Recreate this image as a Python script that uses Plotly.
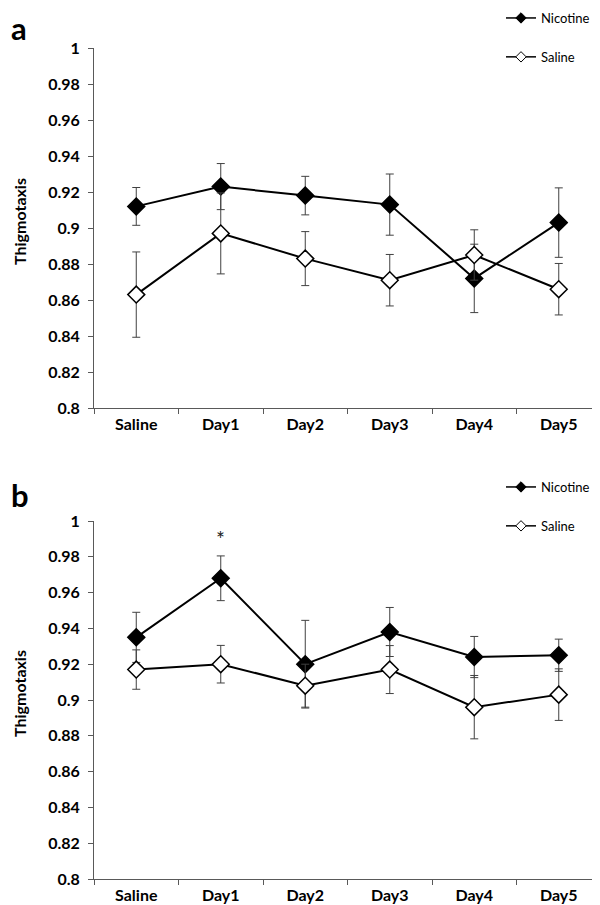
import plotly.graph_objects as go

categories = ["Saline", "Day1", "Day2", "Day3", "Day4", "Day5"]
y_ticks = [0.8, 0.82, 0.84, 0.86, 0.88, 0.9, 0.92, 0.94, 0.96, 0.98, 1.0]
y_ticktext = ["0.8", "0.82", "0.84", "0.86", "0.88", "0.9", "0.92", "0.94", "0.96", "0.98", "1"]

a_nicotine = [0.912, 0.923, 0.918, 0.913, 0.872, 0.903]
a_nicotine_err = [0.0105, 0.0128, 0.0107, 0.017, 0.019, 0.0193]
a_saline = [0.863, 0.897, 0.883, 0.871, 0.885, 0.866]
a_saline_err = [0.0237, 0.0225, 0.015, 0.0143, 0.014, 0.0143]

b_nicotine = [0.935, 0.968, 0.920, 0.938, 0.924, 0.925]
b_nicotine_err = [0.014, 0.0125, 0.0245, 0.0137, 0.0115, 0.009]
b_saline = [0.917, 0.920, 0.908, 0.917, 0.896, 0.903]
b_saline_err = [0.011, 0.0105, 0.012, 0.0134, 0.0177, 0.0144]

W, H = 600, 905
FONT = "Lato"
AXC = "#595959"


def px_x(p):
    return p / W


def px_y(p):
    return (H - p) / H


fig = go.Figure()


def add_series(name, y, err, xa, ya, legend, filled):
    fill = "black" if filled else "white"
    fig.add_trace(go.Scatter(
        x=categories, y=y, name=name, mode="lines+markers",
        xaxis=xa, yaxis=ya, showlegend=False,
        line=dict(color="black", width=2),
        marker=dict(symbol="diamond", size=13, color=fill,
                    line=dict(color="black", width=1.5)),
        error_y=dict(type="data", array=err, visible=True,
                     color="#404040", thickness=1, width=4),
    ))
    # legend entry with the small symbol used in the reference legend
    fig.add_trace(go.Scatter(
        x=[None], y=[None], name=name, mode="lines+markers",
        xaxis=xa, yaxis=ya, legend=legend, legendgroup=name + legend,
        line=dict(color="black", width=1.5),
        marker=dict(symbol="diamond", size=8, color=fill,
                    line=dict(color="black", width=1)),
    ))


add_series("Nicotine", a_nicotine, a_nicotine_err, "x", "y", "legend", True)
add_series("Saline", a_saline, a_saline_err, "x", "y", "legend", False)
add_series("Nicotine", b_nicotine, b_nicotine_err, "x2", "y2", "legend2", True)
add_series("Saline", b_saline, b_saline_err, "x2", "y2", "legend2", False)

xdom = [px_x(86), px_x(593)]
xaxis_style = dict(
    type="category", categoryorder="array", categoryarray=categories,
    range=[-0.5, 5.5], domain=xdom, showline=True, linecolor=AXC, linewidth=1,
    ticks="outside", tickson="boundaries", ticklen=5, tickcolor=AXC,
    ticklabelstandoff=2,
    tickfont=dict(family=FONT, size=16, color="black", weight="bold"),
    showgrid=False, zeroline=False, fixedrange=True,
)
yaxis_style = dict(
    range=[0.8, 1.0], tickvals=y_ticks, ticktext=y_ticktext,
    showline=True, linecolor=AXC, linewidth=1,
    ticks="outside", ticklen=5, tickcolor=AXC, ticklabelstandoff=5,
    tickfont=dict(family=FONT, size=16, color="black", weight="bold"),
    showgrid=False, zeroline=False,
)

legend_style = dict(
    xanchor="left", yanchor="top",
    font=dict(family=FONT, size=13, color="black"),
    itemwidth=30, tracegroupgap=19, traceorder="grouped",
    bgcolor="rgba(0,0,0,0)",
)

fig.update_layout(
    width=W, height=H, autosize=False,
    margin=dict(l=0, r=0, t=0, b=0, autoexpand=False),
    paper_bgcolor="white", plot_bgcolor="white",
    font=dict(family=FONT, color="black"),
    xaxis=dict(**xaxis_style, anchor="y"),
    yaxis=dict(**yaxis_style, anchor="x", domain=[px_y(400), px_y(40)]),
    xaxis2=dict(**xaxis_style, anchor="y2"),
    yaxis2=dict(**yaxis_style, anchor="x2", domain=[px_y(871), px_y(513)]),
    legend=dict(**legend_style, x=px_x(493), y=px_y(-5)),
    legend2=dict(**legend_style, x=px_x(493), y=px_y(464)),
    showlegend=True,
)

annotations = [
    dict(text="<b>a</b>", x=px_x(1), y=px_y(20), xref="paper", yref="paper",
         xanchor="left", yanchor="middle", showarrow=False,
         font=dict(family=FONT, size=31, color="black")),
    dict(text="<b>b</b>", x=px_x(1), y=px_y(487), xref="paper", yref="paper",
         xanchor="left", yanchor="middle", showarrow=False,
         font=dict(family=FONT, size=31, color="black")),
    dict(text="<b>Thigmotaxis</b>", x=px_x(11), y=px_y(214), xref="paper", yref="paper",
         textangle=-90, showarrow=False, xanchor="center", yanchor="middle",
         font=dict(family=FONT, size=16, color="black")),
    dict(text="<b>Thigmotaxis</b>", x=px_x(11), y=px_y(686), xref="paper", yref="paper",
         textangle=-90, showarrow=False, xanchor="center", yanchor="middle",
         font=dict(family=FONT, size=16, color="black")),
    dict(text="*", x="Day1", y=0.99, xref="x2", yref="y2", showarrow=False,
         font=dict(family=FONT, size=21, color="#222222")),
]
fig.update_layout(annotations=annotations)

fig.write_html("out.html")
